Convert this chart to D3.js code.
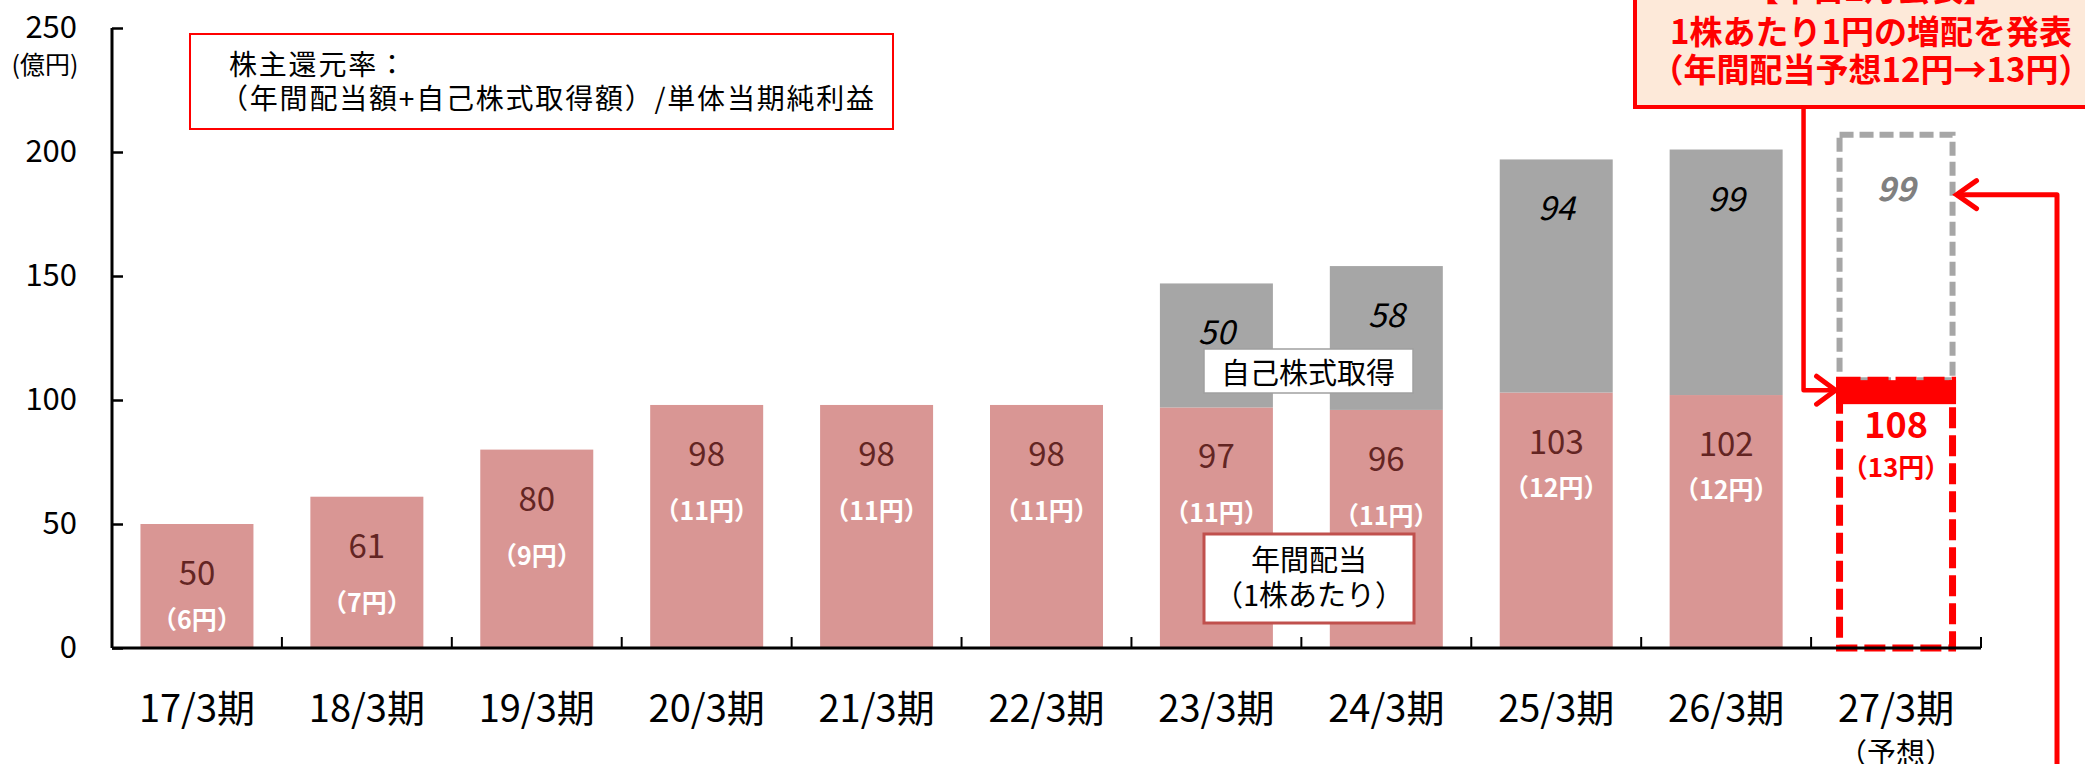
<!DOCTYPE html>
<html>
<head>
<meta charset="utf-8">
<script src="https://cdn.jsdelivr.net/npm/d3@7"></script>
<style>
  html, body { margin: 0; padding: 0; background: #fff; }
  svg { display: block; font-family: 'Noto Sans CJK JP', sans-serif; }
</style>
</head>
<body>
<div id="chart"></div>
<script>
// data (億円)
const periods   = ['17/3期', '18/3期', '19/3期', '20/3期', '21/3期', '22/3期', '23/3期', '24/3期', '25/3期', '26/3期', '27/3期'];
const dividends = [50, 61, 80, 98, 98, 98, 97, 96, 103, 102, 108];
const buybacks  = [0, 0, 0, 0, 0, 0, 50, 58, 94, 99, 99];
const perShare  = ['6円', '7円', '9円', '11円', '11円', '11円', '11円', '11円', '12円', '12円', '13円'];
const yTicks    = [0, 50, 100, 150, 200, 250];
const forecastIdx = 10;
const noteLines = ['株主還元率：', '（年間配当額+自己株式取得額）/単体当期純利益'];
const calloutLines = ['【本日2月公表】', '1株あたり1円の増配を発表', '（年間配当予想12円→13円）'];

const width = 2085, height = 764;
const PINK = '#d99694', GREY = '#a6a6a6', RED = '#ff0000', DARK = '#632523';

const svg = d3.select('#chart').append('svg')
  .attr('width', width).attr('height', height);

const x = d3.scaleBand().domain(periods).range([112, 1981])
  .paddingInner(0.335).paddingOuter(0.1675);
const xEdge = d3.scaleLinear().domain([0, periods.length]).range([112, 1981]);
const y = d3.scaleLinear().domain([0, 250]).range([648, 28]);
const bw = x.bandwidth();

const rows = periods.map((p, i) => ({p, i, div: dividends[i], bb: buybacks[i], yen: perShare[i]}));
const actual = rows.filter(d => d.i !== forecastIdx);
const fc = rows[forecastIdx];

// bars
svg.append('g').selectAll('rect').data(actual).join('rect')
  .attr('x', d => x(d.p)).attr('width', bw)
  .attr('y', d => y(d.div)).attr('height', d => y(0) - y(d.div))
  .attr('fill', PINK);

svg.append('g').selectAll('rect').data(actual.filter(d => d.bb > 0)).join('rect')
  .attr('x', d => x(d.p)).attr('width', bw)
  .attr('y', d => y(d.div + d.bb)).attr('height', d => y(d.div) - y(d.div + d.bb))
  .attr('fill', GREY);

// axes
const yAxis = svg.append('g').attr('transform', `translate(${xEdge(0)},0)`)
  .call(d3.axisLeft(y).tickValues(yTicks).tickSizeInner(-11).tickSizeOuter(0).tickPadding(35));
yAxis.select('.domain').remove();
yAxis.selectAll('line').attr('stroke', '#000').attr('stroke-width', 2.5);
yAxis.selectAll('text').attr('font-size', 31).attr('fill', '#000')
  .attr('font-family', "'Noto Sans CJK JP', sans-serif");

const xAxis = svg.append('g').attr('transform', `translate(0,${y(0)})`)
  .call(d3.axisBottom(x).tickSize(0));
xAxis.select('.domain').remove();
xAxis.selectAll('text').attr('dy', null).attr('y', 57)
  .attr('dominant-baseline', 'central')
  .attr('font-size', 38).attr('fill', '#000')
  .attr('font-family', "'Noto Sans CJK JP', sans-serif");

svg.append('text').attr('x', x(fc.p) + bw / 2).attr('y', 751)
  .attr('text-anchor', 'middle').attr('dominant-baseline', 'central')
  .attr('font-size', 29).text('（予想）');

svg.append('text').attr('x', 45).attr('y', 63)
  .attr('text-anchor', 'middle').attr('dominant-baseline', 'central')
  .attr('font-size', 25).text('(億円)');

// forecast boxes
svg.append('rect')
  .attr('x', x(fc.p)).attr('width', bw)
  .attr('y', y(fc.div + fc.bb)).attr('height', y(fc.div) - y(fc.div + fc.bb))
  .attr('fill', 'none').attr('stroke', GREY).attr('stroke-width', 6)
  .attr('stroke-dasharray', '14,6');

svg.append('rect')
  .attr('x', x(fc.p)).attr('width', bw)
  .attr('y', y(fc.div)).attr('height', y(0) - y(fc.div))
  .attr('fill', 'none').attr('stroke', RED).attr('stroke-width', 7)
  .attr('stroke-dasharray', '21,7');

svg.append('rect')
  .attr('x', x(fc.p) - 3.5).attr('width', bw + 7)
  .attr('y', y(fc.div)).attr('height', 24)
  .attr('fill', RED);

// axis lines and category ticks
svg.append('line').attr('x1', xEdge(0)).attr('x2', xEdge(0)).attr('y1', y(250)).attr('y2', y(0))
  .attr('stroke', '#000').attr('stroke-width', 3);
svg.append('line').attr('x1', xEdge(0)).attr('x2', xEdge(periods.length)).attr('y1', y(0)).attr('y2', y(0))
  .attr('stroke', '#000').attr('stroke-width', 3);
svg.append('g').selectAll('line').data(d3.range(1, periods.length + 1)).join('line')
  .attr('x1', d => xEdge(d)).attr('x2', d => xEdge(d))
  .attr('y1', y(0)).attr('y2', y(0) - 11)
  .attr('stroke', '#000').attr('stroke-width', 2);

// value labels
svg.append('g').selectAll('text').data(actual).join('text')
  .attr('x', d => x(d.p) + bw / 2).attr('y', d => y(d.div) + 47)
  .attr('text-anchor', 'middle').attr('dominant-baseline', 'central')
  .attr('font-size', 33).attr('fill', DARK)
  .text(d => d.div);

svg.append('g').selectAll('text').data(actual).join('text')
  .attr('x', d => x(d.p) + bw / 2)
  .attr('y', d => Math.min(y(d.div) + (d.div > 100 ? 93 : 104), y(0) - 30))
  .attr('text-anchor', 'middle').attr('dominant-baseline', 'central')
  .attr('font-size', 25).attr('font-weight', 'bold').attr('fill', '#fff')
  .text(d => `（${d.yen}）`);

svg.append('g').selectAll('text').data(actual.filter(d => d.bb > 0)).join('text')
  .attr('x', d => x(d.p) + bw / 2).attr('y', d => y(d.div + d.bb) + 47)
  .attr('text-anchor', 'middle').attr('dominant-baseline', 'central')
  .attr('font-size', 33).attr('font-style', 'italic').attr('fill', '#000')
  .text(d => d.bb);

svg.append('text').attr('x', x(fc.p) + bw / 2).attr('y', y(fc.div + fc.bb) + 52)
  .attr('text-anchor', 'middle').attr('dominant-baseline', 'central')
  .attr('font-size', 33).attr('font-style', 'italic').attr('font-weight', 'bold').attr('fill', '#808080')
  .text(fc.bb);

svg.append('text').attr('x', x(fc.p) + bw / 2).attr('y', y(fc.div) + 42)
  .attr('text-anchor', 'middle').attr('dominant-baseline', 'central')
  .attr('font-size', 36).attr('font-weight', 'bold').attr('fill', RED)
  .text(fc.div);

svg.append('text').attr('x', x(fc.p) + bw / 2).attr('y', y(fc.div) + 85)
  .attr('text-anchor', 'middle').attr('dominant-baseline', 'central')
  .attr('font-size', 26).attr('font-weight', 'bold').attr('fill', RED)
  .text(`（${fc.yen}）`);

// legend-like labels inside the chart
svg.append('rect').attr('x', 1204).attr('y', 349).attr('width', 209).attr('height', 44)
  .attr('fill', '#fff').attr('stroke', '#a0a0a0').attr('stroke-width', 1.5);
svg.append('text').attr('x', 1308).attr('y', 371)
  .attr('text-anchor', 'middle').attr('dominant-baseline', 'central')
  .attr('font-size', 29).text('自己株式取得');

svg.append('rect').attr('x', 1204).attr('y', 534).attr('width', 210).attr('height', 89)
  .attr('fill', '#fff').attr('stroke', '#c0504d').attr('stroke-width', 3);
svg.append('text').attr('x', 1309).attr('y', 558)
  .attr('text-anchor', 'middle').attr('dominant-baseline', 'central')
  .attr('font-size', 29).text('年間配当');
svg.append('text').attr('x', 1309).attr('y', 593)
  .attr('text-anchor', 'middle').attr('dominant-baseline', 'central')
  .attr('font-size', 29).text('（1株あたり）');

// formula note
svg.append('rect').attr('x', 190).attr('y', 34).attr('width', 703).attr('height', 95)
  .attr('fill', '#fff').attr('stroke', RED).attr('stroke-width', 2);
svg.append('g').selectAll('text').data(noteLines).join('text')
  .attr('x', (d, i) => i === 0 ? 229 : 220).attr('y', (d, i) => 63 + i * 34)
  .attr('dominant-baseline', 'central')
  .attr('font-size', 28).attr('letter-spacing', 1.8)
  .text(d => d);

// callout box (top right, clipped by page edge)
svg.append('rect').attr('x', 1635).attr('y', -40).attr('width', 472).attr('height', 147)
  .attr('fill', '#fde9d9').attr('stroke', RED).attr('stroke-width', 4);
svg.append('g').selectAll('text').data(calloutLines).join('text')
  .attr('x', 1871).attr('y', (d, i) => i === 0 ? -13 : 30 + (i - 1) * 38)
  .attr('text-anchor', 'middle').attr('dominant-baseline', 'central')
  .attr('font-size', 33).attr('font-weight', 'bold').attr('fill', RED)
  .text(d => d);

// connector arrows
const tipL = x(fc.p) - 4, yL = y(fc.div) + 10, vx = x(fc.p) - 36;
svg.append('path')
  .attr('d', `M${vx},107 V${yL} H${tipL}`)
  .attr('fill', 'none').attr('stroke', RED).attr('stroke-width', 4.5).attr('stroke-linejoin', 'round');
svg.append('path')
  .attr('d', `M${tipL - 19},${yL - 14} L${tipL},${yL} L${tipL - 19},${yL + 14}`)
  .attr('fill', 'none').attr('stroke', RED).attr('stroke-width', 5).attr('stroke-linecap', 'round');

const tipR = x(fc.p) + bw + 4, yR = y(fc.div + fc.bb) + 60, rx = 2057;
svg.append('path')
  .attr('d', `M${rx},${height} V${yR} H${tipR}`)
  .attr('fill', 'none').attr('stroke', RED).attr('stroke-width', 5).attr('stroke-linejoin', 'round');
svg.append('path')
  .attr('d', `M${tipR + 20},${yR - 14} L${tipR},${yR} L${tipR + 20},${yR + 14}`)
  .attr('fill', 'none').attr('stroke', RED).attr('stroke-width', 5).attr('stroke-linecap', 'round');
</script>
</body>
</html>
